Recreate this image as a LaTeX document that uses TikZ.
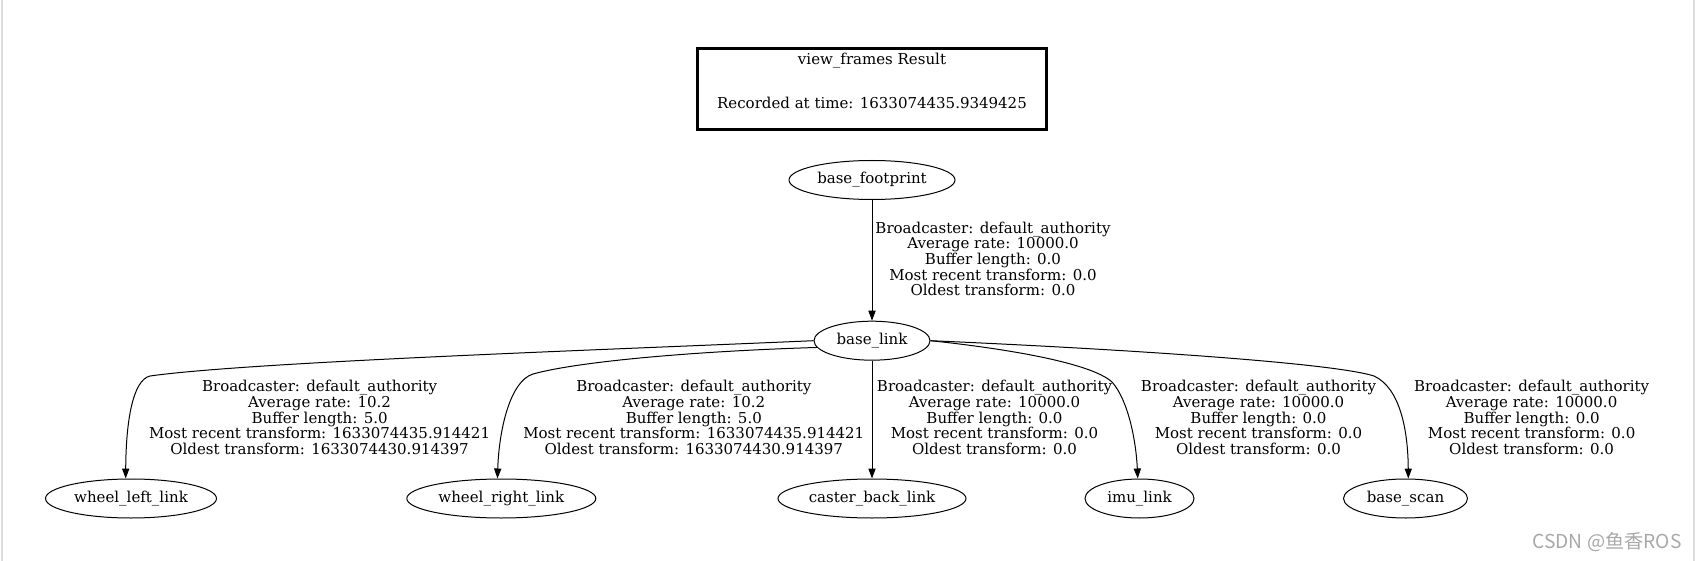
\documentclass[tikz,border=0pt]{standalone}
\usepackage{fontspec}
\setmainfont{DejaVu Serif}
\newfontfamily\cjk{Noto Sans CJK SC}
\usepackage{tikz}
\usetikzlibrary{arrows.meta,shapes.geometric,positioning}
\definecolor{frameGrey}{HTML}{DCDCDC}
\definecolor{markGrey}{HTML}{A8A8A8}

\begin{document}
\begin{tikzpicture}[x=0.5pt,y=-0.5pt,
            frame/.style={ellipse,draw,line width=0.5pt,minimum height=19.5pt,inner sep=0pt,
                          font=\fontsize{7.5}{7.85}\selectfont},
            legend/.style={draw,line width=1.1pt,minimum width=174.5pt,minimum height=40.5pt},
            edgelbl/.style={align=center,inner sep=0pt,font=\fontsize{7.5}{7.85}\selectfont},
            tf/.style={-{Triangle[length=5pt,width=3.6pt]},line width=0.5pt}]
            \useasboundingbox (0,0) rectangle (1696,561);
            \draw[frameGrey,line width=1pt] (2,0) -- (2,561);
            \draw[frameGrey,line width=1pt] (1694,0) -- (1694,561);
            % result box
            \node[legend] (result) at (872,89) {};
            \node[edgelbl] (resulttitle) at (872,60.7) {view\_frames Result};
            \node[edgelbl] (resulttime) at (872,102.7) {Recorded at time: 1633074435.9349425};
            % frames
            \node[frame,minimum width=83pt] (bf) at (872,180) {base\_footprint};
            \node[frame,minimum width=58pt] (bl) at (872,340.7) {base\_link};
            \node[frame,minimum width=85.5pt] (wl) at (131,498.5) {wheel\_left\_link};
            \node[frame,minimum width=94.5pt] (wr) at (501.3,498.5) {wheel\_right\_link};
            \node[frame,minimum width=94pt] (cb) at (872,498.5) {caster\_back\_link};
            \node[frame,minimum width=54.5pt] (imu) at (1139.5,498.5) {imu\_link};
            \node[frame,minimum width=62pt] (bs) at (1405.5,498.5) {base\_scan};
            % transforms
            \draw[tf] (bf) -- (bl);
            \draw[tf] (bl.west) .. controls (600,350) and (250,362) .. (150,376)
                .. controls (133,380) and (126,420) .. (wl.105);
            \draw[tf] (bl.187) .. controls (700,351) and (580,361) .. (533,374)
                .. controls (510,381) and (499,430) .. (wr.101);
            \draw[tf] (bl) -- (cb);
            \draw[tf] (bl.east) .. controls (1000,348) and (1090,362) .. (1112,382)
                .. controls (1128,400) and (1136,440) .. (imu.95);
            \draw[tf] (bl.east) .. controls (1100,348) and (1330,362) .. (1374,376)
                .. controls (1400,388) and (1408,430) .. (bs.82);
            % labels
            \node[edgelbl] (lbf) at (993,259) {Broadcaster: default\_authority\\Average rate: 10000.0\\Buffer length: 0.0\\Most recent transform: 0.0\\Oldest transform: 0.0};
            \node[edgelbl] (lwl) at (319.6,417.5) {Broadcaster: default\_authority\\Average rate: 10.2\\Buffer length: 5.0\\Most recent transform: 1633074435.914421\\Oldest transform: 1633074430.914397};
            \node[edgelbl] (lwr) at (693.8,417.5) {Broadcaster: default\_authority\\Average rate: 10.2\\Buffer length: 5.0\\Most recent transform: 1633074435.914421\\Oldest transform: 1633074430.914397};
            \node[edgelbl] (lcb) at (994.5,417.5) {Broadcaster: default\_authority\\Average rate: 10000.0\\Buffer length: 0.0\\Most recent transform: 0.0\\Oldest transform: 0.0};
            \node[edgelbl] (limu) at (1258.5,417.5) {Broadcaster: default\_authority\\Average rate: 10000.0\\Buffer length: 0.0\\Most recent transform: 0.0\\Oldest transform: 0.0};
            \node[edgelbl] (lbs) at (1531.6,417.5) {Broadcaster: default\_authority\\Average rate: 10000.0\\Buffer length: 0.0\\Most recent transform: 0.0\\Oldest transform: 0.0};
            % watermark
            \node[inner sep=0pt,text=markGrey,font=\cjk\fontsize{9.6}{10}\selectfont] (mark) at (1607,541.7) {CSDN @鱼香ROS};
        \end{tikzpicture}
\end{document}
